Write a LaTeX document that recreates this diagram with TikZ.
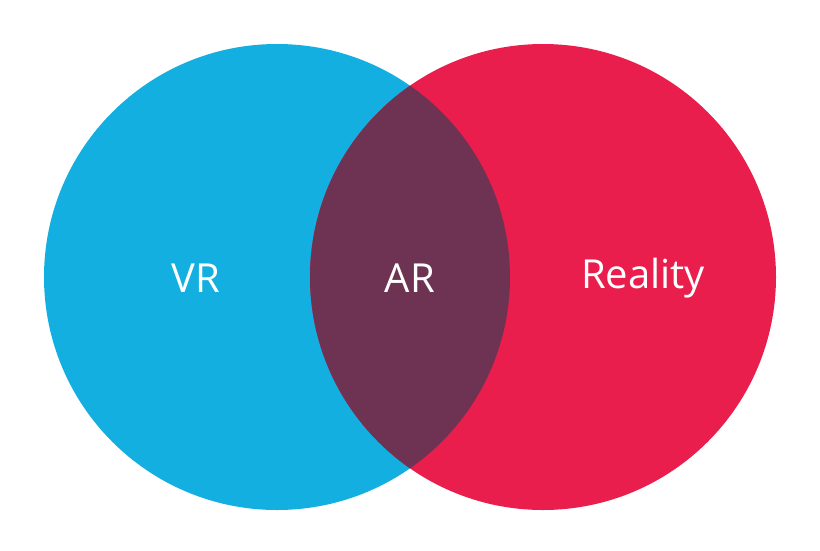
\documentclass[tikz,border=0pt]{standalone}
\usepackage{fontspec}
\setmainfont{Open Sans}
\definecolor{vrblue}{HTML}{12AFE0}
\definecolor{realred}{HTML}{E91E4C}
\definecolor{arplum}{HTML}{6E3352}
\tikzset{
  label/.style={text=white, font=\fontsize{40}{48}\selectfont}
}
\begin{document}
\begin{tikzpicture}[x=1pt, y=-1pt]
  \useasboundingbox (0,0) rectangle (820,550);
  % Circles
  \fill[vrblue] (277,277) circle (233);
  \fill[realred] (543,277) circle (233);
  % Overlap
  \begin{scope}
    \clip (277,277) circle (233);
    \fill[arplum] (543,277) circle (233);
  \end{scope}
  % Labels
  \node[label] (vr) at (196,278) {VR};
  \node[label] (ar) at (410,278) {AR};
  \node[label] (reality) at (643,278) {Reality};
\end{tikzpicture}
\end{document}
